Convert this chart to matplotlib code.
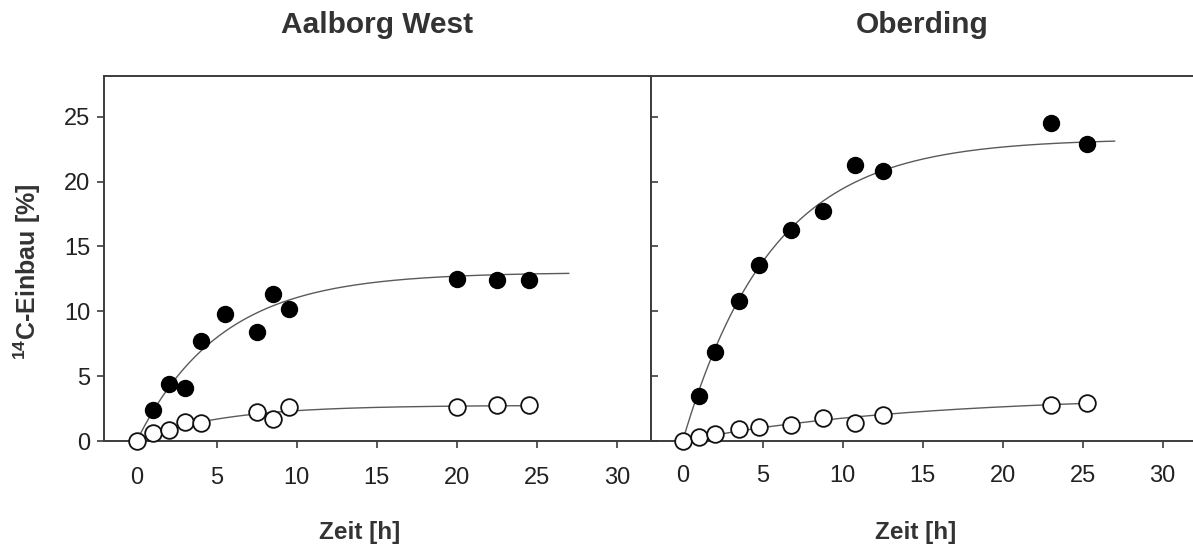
import numpy as np
import matplotlib
matplotlib.use("Agg")
import matplotlib.pyplot as plt

plt.rcParams["font.family"] = ["Liberation Sans", "DejaVu Sans"]
plt.rcParams["mathtext.fontset"] = "custom"
plt.rcParams["mathtext.rm"] = "Liberation Sans"
plt.rcParams["mathtext.bf"] = "Liberation Sans:bold"

# --- Aalborg West -------------------------------------------------------
aal_filled_t = [1, 2, 3, 4, 5.5, 7.5, 8.5, 9.5, 20, 22.5, 24.5]
aal_filled_y = [2.4, 4.4, 4.1, 7.7, 9.8, 8.4, 11.3, 10.2, 12.5, 12.4, 12.4]
aal_open_t = [0, 1, 2, 3, 4, 7.5, 8.5, 9.5, 20, 22.5, 24.5]
aal_open_y = [0.0, 0.65, 0.85, 1.5, 1.4, 2.2, 1.7, 2.65, 2.6, 2.8, 2.8]

# --- Oberding -----------------------------------------------------------
obe_filled_t = [1, 2, 3.5, 4.75, 6.75, 8.75, 10.8, 12.5, 23, 25.3]
obe_filled_y = [3.5, 6.85, 10.8, 13.6, 16.3, 17.7, 21.3, 20.8, 24.5, 22.9]
obe_open_t = [0, 1, 2, 3.5, 4.75, 6.75, 8.75, 10.8, 12.5, 23, 25.3]
obe_open_y = [0.0, 0.27, 0.57, 0.95, 1.05, 1.25, 1.75, 1.35, 2.0, 2.8, 2.95]

# saturation fits y = a * (1 - exp(-k t)): (a, k, end of curve in h)
aal_filled_fit = (13.0, 0.19, 27.0)
aal_open_fit = (2.75, 0.19, 24.5)
obe_filled_fit = (23.3, 0.18, 27.0)
obe_open_fit = (3.5, 0.07, 25.3)

titles = ["Aalborg West", "Oberding"]
x_ticks = [0, 5, 10, 15, 20, 25, 30]
y_ticks = [0, 5, 10, 15, 20, 25]
ylabel = r"$^{\mathbf{14}}$C-Einbau [%]"
xlabel = "Zeit [h]"

TEXT = "#333333"
SPINE = "#3c3c3c"
CURVE = "#5a5a5a"


def saturation_curve(ax, params):
    a, k, t_end = params
    tt = np.linspace(0, t_end, 300)
    ax.plot(tt, a * (1 - np.exp(-k * tt)), color=CURVE, lw=1.0, zorder=2)


def draw_series(ax, t_f, y_f, t_o, y_o, fit_f, fit_o):
    saturation_curve(ax, fit_f)
    saturation_curve(ax, fit_o)
    ax.plot(t_f, y_f, "o", ms=11.5, mfc="black", mec="black", zorder=4,
            clip_on=False)
    ax.plot(t_o, y_o, "o", ms=12, mfc="white", mec="#111111", mew=1.3,
            zorder=3, clip_on=False)


W, H = 1193, 548
fig = plt.figure(figsize=(W / 100, H / 100), dpi=100)
ax1 = fig.add_axes([104 / W, (H - 441) / H, (651 - 104) / W, (441 - 76) / H])
ax2 = fig.add_axes([651 / W, (H - 441) / H, (W - 651) / W, (441 - 76) / H])

draw_series(ax1, aal_filled_t, aal_filled_y, aal_open_t, aal_open_y,
            aal_filled_fit, aal_open_fit)
draw_series(ax2, obe_filled_t, obe_filled_y, obe_open_t, obe_open_y,
            obe_filled_fit, obe_open_fit)

ax1.set_xlim(-2.04, 32.14)
ax2.set_xlim(-1.98, 31.9)
for ax in (ax1, ax2):
    ax.set_ylim(0, 28.14)
    ax.set_xticks(x_ticks)
    ax.set_yticks(y_ticks)
    for s in ax.spines.values():
        s.set_color(SPINE)
        s.set_linewidth(1.4)
    ax.tick_params(axis="x", direction="out", length=5, width=1.2,
                   color=SPINE, labelsize=17, labelcolor="#222222")

ax1.tick_params(axis="x", pad=14)
ax2.tick_params(axis="x", pad=12)
ax1.tick_params(axis="y", direction="out", length=5, width=1.2, color=SPINE,
                labelsize=17, labelcolor="#222222", pad=5)
ax2.tick_params(axis="y", direction="in", length=5, width=1.2, color=SPINE,
                labelleft=False)
ax2.spines["right"].set_visible(False)

fig.text(377 / W, 1 - 25 / H, titles[0], ha="center", va="center",
         fontsize=21.5, fontweight="bold", color=TEXT)
fig.text(922 / W, 1 - 25 / H, titles[1], ha="center", va="center",
         fontsize=21.5, fontweight="bold", color=TEXT)
fig.text(360 / W, 1 - 533 / H, xlabel, ha="center", va="center",
         fontsize=17.5, fontweight="bold", color=TEXT)
fig.text(916 / W, 1 - 532 / H, xlabel, ha="center", va="center",
         fontsize=17.5, fontweight="bold", color=TEXT)
fig.text(27 / W, 1 - 272 / H, ylabel, ha="center", va="center",
         rotation=90, fontsize=18, fontweight="bold", color=TEXT)

fig.savefig("out.png", dpi=100)
